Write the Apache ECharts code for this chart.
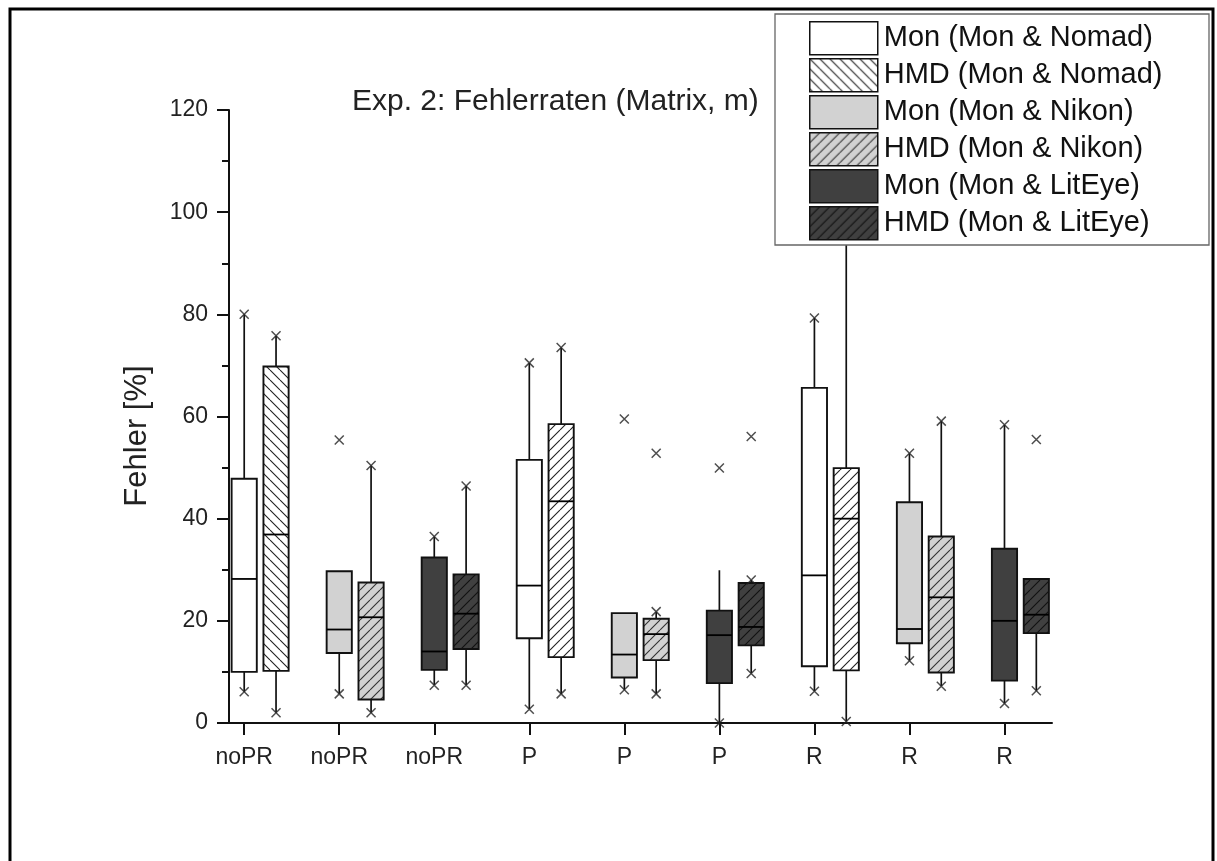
<!DOCTYPE html>
<html>
<head>
<meta charset="utf-8">
<title>Exp. 2: Fehlerraten (Matrix, m)</title>
<script src="https://cdn.jsdelivr.net/npm/echarts@6/dist/echarts.min.js"></script>
<style>
  html, body { margin: 0; padding: 0; background: #fff; }
  #chart { width: 1217px; height: 861px; }
</style>
</head>
<body>
<div id="chart"></div>
<script>
// conditions shown under each Mon box
const categories = ['noPR', 'noPR', 'noPR', 'P', 'P', 'P', 'R', 'R', 'R'];
const seriesNames = [
  'Mon (Mon & Nomad)', 'HMD (Mon & Nomad)',
  'Mon (Mon & Nikon)', 'HMD (Mon & Nikon)',
  'Mon (Mon & LitEye)', 'HMD (Mon & LitEye)'
];

// [whisker low, Q1, median, Q3, whisker high] for noPR, P, R
const monNomad = [[6.1, 10.0, 28.2, 47.8, 80.0], [2.7, 16.6, 26.9, 51.5, 70.5], [6.2, 11.1, 28.9, 65.6, 79.3]];
const hmdNomad = [[2.0, 10.2, 36.9, 69.8, 75.8], [5.7, 12.9, 43.4, 58.5, 73.5], [0.3, 10.3, 40.0, 49.9, 100.0]];
const monNikon = [[5.7, 13.7, 18.3, 29.7, 29.7], [6.5, 8.9, 13.4, 21.5, 21.5], [12.2, 15.6, 18.4, 43.2, 52.8]];
const hmdNikon = [[2.0, 4.6, 20.7, 27.5, 50.4], [5.7, 12.3, 17.4, 20.4, 21.8], [7.2, 9.9, 24.6, 36.5, 59.1]];
const monLitEye = [[7.4, 10.4, 14.0, 32.4, 36.5], [0.0, 7.8, 17.2, 22.0, 29.9], [3.8, 8.3, 20.0, 34.1, 58.4]];
const hmdLitEye = [[7.4, 14.5, 21.4, 29.1, 46.4], [9.7, 15.2, 18.8, 27.4, 28.0], [6.3, 17.6, 21.2, 28.2, 28.2]];

// x marks (min / max / outliers) for noPR, P, R
const monNomadMarks = [[6.1, 80.0], [2.7, 70.5], [6.2, 79.3]];
const hmdNomadMarks = [[2.0, 75.8], [5.7, 73.5], [0.3, 100.0]];
const monNikonMarks = [[5.7, 55.4], [6.5, 59.5], [12.2, 52.8]];
const hmdNikonMarks = [[2.0, 50.4], [5.7, 21.8, 52.8], [7.2, 59.1]];
const monLitEyeMarks = [[7.4, 36.5], [0.0, 49.9], [3.8, 58.4]];
const hmdLitEyeMarks = [[7.4, 46.4], [9.7, 28.0, 56.1], [6.3, 55.5]];

const boxData = [monNomad, hmdNomad, monNikon, hmdNikon, monLitEye, hmdLitEye];
const markData = [monNomadMarks, hmdNomadMarks, monNikonMarks, hmdNikonMarks, monLitEyeMarks, hmdLitEyeMarks];

const HMD_OFFSET = 0.335;
const BOX_W = 0.265;

// hatch fill as a canvas pattern
function hatch(bg, line, dir) {
  const s = 10;
  const c = document.createElement('canvas');
  c.width = s; c.height = s;
  const g = c.getContext('2d');
  g.fillStyle = bg;
  g.fillRect(0, 0, s, s);
  if (dir) {
    g.strokeStyle = line;
    g.lineWidth = 1.1;
    g.beginPath();
    for (const k of [-s, 0, s]) {
      if (dir === '/') { g.moveTo(k, s); g.lineTo(k + s, 0); }
      else { g.moveTo(k, 0); g.lineTo(k + s, s); }
    }
    g.stroke();
  }
  return { image: c, repeat: 'repeat' };
}

const fills = [
  ['#ffffff', '#ffffff', '#ffffff'],
  [hatch('#ffffff', '#222', '\\'), hatch('#ffffff', '#222', '/'), hatch('#ffffff', '#222', '/')],
  ['#d2d2d2', '#d2d2d2', '#d2d2d2'],
  [hatch('#d2d2d2', '#333', '/'), hatch('#d2d2d2', '#333', '/'), hatch('#d2d2d2', '#333', '/')],
  ['#404040', '#404040', '#404040'],
  [hatch('#404040', '#111', '/'), hatch('#404040', '#111', '/'), hatch('#404040', '#111', '/')]
];

function xPos(s, c) {
  return c * 3 + Math.floor(s / 2) + 1 + (s % 2 ? HMD_OFFSET : 0);
}

function makeRender(s) {
  return function (params, api) {
    const x = api.value(0);
    const lo = api.coord([x, api.value(1)]);
    const q1 = api.coord([x, api.value(2)]);
    const med = api.coord([x, api.value(3)]);
    const q3 = api.coord([x, api.value(4)]);
    const hi = api.coord([x, api.value(5)]);
    const w = api.size([BOX_W, 0])[0];
    const cx = q1[0];
    const lineStyle = { stroke: '#111', lineWidth: 1.7 };
    const children = [];
    if (hi[1] < q3[1] - 0.5) {
      children.push({ type: 'line', shape: { x1: cx, y1: hi[1], x2: cx, y2: q3[1] }, style: lineStyle });
    }
    if (lo[1] > q1[1] + 0.5) {
      children.push({ type: 'line', shape: { x1: cx, y1: q1[1], x2: cx, y2: lo[1] }, style: lineStyle });
    }
    children.push({
      type: 'rect',
      shape: { x: cx - w / 2, y: q3[1], width: w, height: q1[1] - q3[1] },
      style: { fill: fills[s][params.dataIndex], stroke: '#111', lineWidth: 1.9 }
    });
    children.push({
      type: 'line',
      shape: { x1: cx - w / 2, y1: med[1], x2: cx + w / 2, y2: med[1] },
      style: { stroke: '#000', lineWidth: 1.8 }
    });
    return { type: 'group', children: children };
  };
}

const series = seriesNames.map((name, s) => ({
  name: name,
  type: 'custom',
  renderItem: makeRender(s),
  encode: { x: 0, y: [1, 2, 3, 4, 5] },
  itemStyle: { color: fills[s][0], borderColor: '#111', borderWidth: 1.5 },
  z: 2,
  silent: true,
  data: boxData[s].map((b, c) => [xPos(s, c)].concat(b))
}));

const marks = [];
markData.forEach((list, s) => list.forEach((vals, c) => vals.forEach(v => marks.push([xPos(s, c), v]))));

series.push({
  name: 'marks',
  type: 'scatter',
  symbol: 'path://M0,0L10,10M10,0L0,10',
  symbolSize: 9,
  itemStyle: { color: 'transparent', borderColor: '#222', borderWidth: 1.5 },
  z: 3,
  silent: true,
  data: marks
});

const chart = echarts.init(document.getElementById('chart'));
chart.setOption({
  animation: false,
  backgroundColor: '#ffffff',
  textStyle: { fontFamily: 'Liberation Sans, Arial, sans-serif' },
  title: {
    text: 'Exp. 2: Fehlerraten (Matrix, m)',
    left: 352,
    top: 87,
    padding: 0,
    textStyle: { fontSize: 30, fontWeight: 'normal', color: '#222' }
  },
  legend: {
    data: seriesNames.map((n, s) => ({
      name: n,
      icon: 'rect',
      itemStyle: { color: fills[s][0], borderColor: '#111', borderWidth: 1.5 }
    })),
    orient: 'vertical',
    left: 809,
    top: 21,
    padding: 0,
    itemWidth: 68,
    itemHeight: 33,
    itemGap: 2.5,
    selectedMode: false,
    z: 30,
    textStyle: { fontSize: 29, lineHeight: 33, color: '#111', padding: [0, 0, 0, 1] }
  },
  grid: { left: 229, right: 165, top: 110, bottom: 138 },
  xAxis: {
    type: 'value',
    min: 0.84,
    max: 9.5,
    axisLine: { show: true, onZero: false, lineStyle: { color: '#111', width: 2 } },
    axisTick: { show: true, customValues: [1, 2, 3, 4, 5, 6, 7, 8, 9], length: 12, lineStyle: { color: '#111', width: 2 } },
    axisLabel: {
      customValues: [1, 2, 3, 4, 5, 6, 7, 8, 9],
      formatter: v => categories[Math.round(v) - 1],
      fontSize: 23,
      color: '#222',
      margin: 23
    },
    splitLine: { show: false }
  },
  yAxis: {
    type: 'value',
    min: 0,
    max: 120,
    interval: 20,
    axisLine: { show: true, lineStyle: { color: '#111', width: 2 } },
    axisTick: { show: true, length: 12, lineStyle: { color: '#111', width: 2 } },
    minorTick: { show: true, splitNumber: 2, length: 7, lineStyle: { color: '#111', width: 2 } },
    axisLabel: { fontSize: 23, color: '#222', margin: 21 },
    splitLine: { show: false }
  },
  graphic: [
    {
      type: 'rect',
      z: 1,
      silent: true,
      shape: { x: 10, y: 9, width: 1203, height: 880 },
      style: { fill: 'none', stroke: '#000', lineWidth: 3 }
    },
    {
      type: 'rect',
      z: 20,
      silent: true,
      shape: { x: 775, y: 14, width: 434, height: 231 },
      style: { fill: '#ffffff', stroke: '#666', lineWidth: 1.3 }
    },
    {
      type: 'text',
      z: 5,
      silent: true,
      x: 137,
      y: 436,
      rotation: Math.PI / 2,
      style: {
        text: 'Fehler [%]',
        fontSize: 31,
        fontFamily: 'Liberation Sans, Arial, sans-serif',
        fill: '#222',
        align: 'center',
        verticalAlign: 'middle'
      }
    }
  ],
  series: series
});
</script>
</body>
</html>
